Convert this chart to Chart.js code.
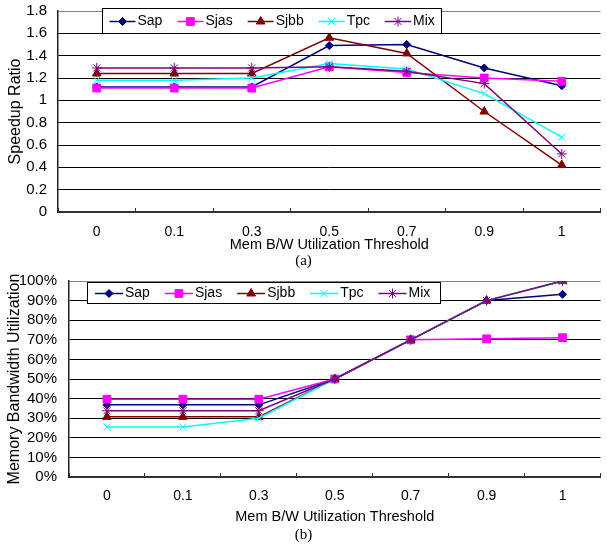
<!DOCTYPE html>
<html>
<head>
<meta charset="utf-8">
<script src="https://cdn.jsdelivr.net/npm/chart.js@4.4.1/dist/chart.umd.min.js"></script>
<style>
  body { margin: 0; background: #fff; }
  canvas { position: absolute; left: 0; }
  #chartA { top: 0; }
  #chartB { top: 270px; }
</style>
</head>
<body>
<canvas id="chartA" width="607" height="270"></canvas>
<canvas id="chartB" width="607" height="274"></canvas>
<script>
"use strict";

// x axis categories, shared by both charts
var thresholds = ['0', '0.1', '0.3', '0.5', '0.7', '0.9', '1'];

// (a) speedup ratio
var speedupSap  = [1.12, 1.12, 1.12, 1.49, 1.50, 1.29, 1.13];
var speedupSjas = [1.11, 1.11, 1.11, 1.30, 1.25, 1.20, 1.17];
var speedupSjbb = [1.24, 1.24, 1.24, 1.56, 1.42, 0.90, 0.42];
var speedupTpc  = [1.18, 1.18, 1.20, 1.33, 1.28, 1.06, 0.67];
var speedupMix  = [1.29, 1.29, 1.29, 1.30, 1.26, 1.15, 0.52];

// (b) memory bandwidth utilization (%)
var bwSap  = [36.8, 36.8, 36.8, 50, 70, 90, 93.2];
var bwSjas = [39.7, 39.7, 39.7, 50, 70, 70.5, 71.1];
var bwSjbb = [30.7, 30.7, 30.7, 50, 70, 90, 100];
var bwTpc  = [25.5, 25.5, 30, 50, 70, 90, 100];
var bwMix  = [33.8, 33.8, 33.8, 50, 70, 90, 100];

var seriesNames = ['Sap', 'Sjas', 'Sjbb', 'Tpc', 'Mix'];
var seriesColors = ['#000080', '#FF00FF', '#800000', '#00FFFF', '#800080'];
var seriesMarkers = ['rectRot', 'rect', 'triangle', 'crossRot', 'star'];
var markerSizes = [4, 5.5, 5, 5, 5];

var SANS = '"Liberation Sans", Arial, sans-serif';

// excel style legend: white box with a border, line + marker samples
var boxLegend = {
    id: 'boxLegend',
    afterDraw: function (chart, args, o) {
        var ctx = chart.ctx;
        ctx.save();
        ctx.fillStyle = '#fff';
        ctx.fillRect(o.x, o.y, o.w, o.h);
        ctx.strokeStyle = '#000';
        ctx.lineWidth = 1;
        ctx.strokeRect(o.x + 0.5, o.y + 0.5, o.w, o.h);
        ctx.font = '14px ' + SANS;
        ctx.textBaseline = 'middle';
        ctx.textAlign = 'left';
        var x = o.x + o.padLeft;
        var cy = o.y + o.h / 2 + 1;
        chart.data.datasets.forEach(function (ds) {
            ctx.strokeStyle = ds.borderColor;
            ctx.fillStyle = ds.backgroundColor;
            ctx.lineWidth = ds.borderWidth;
            ctx.beginPath();
            ctx.moveTo(x, cy);
            ctx.lineTo(x + o.lineLen, cy);
            ctx.stroke();
            ctx.lineWidth = 1;
            Chart.helpers.drawPoint(ctx, { pointStyle: ds.pointStyle, radius: ds.pointRadius, borderWidth: 1, rotation: 0 }, x + o.lineLen / 2, cy);
            x += o.lineLen + o.gap;
            ctx.fillStyle = '#000';
            ctx.fillText(ds.label, x, cy);
            x += ctx.measureText(ds.label).width + o.itemGap;
        });
        ctx.restore();
    }
};

function makeDatasets(series) {
    return series.map(function (vals, i) {
        return {
            label: seriesNames[i],
            data: vals,
            borderColor: seriesColors[i],
            backgroundColor: seriesColors[i],
            borderWidth: 1.5,
            pointStyle: seriesMarkers[i],
            pointRadius: markerSizes[i],
            pointHoverRadius: markerSizes[i],
            pointBorderWidth: 1,
            tension: 0,
            order: series.length - i
        };
    });
}

function buildChart(id, series, cfg) {
    return new Chart(document.getElementById(id), {
        type: 'line',
        data: { labels: thresholds, datasets: makeDatasets(series) },
        options: {
            responsive: false,
            animation: false,
            events: [],
            layout: { padding: { top: 11, left: 0, right: 0, bottom: 0 } },
            plugins: {
                legend: { display: false },
                tooltip: { enabled: false },
                title: {
                    display: true, position: 'bottom', text: cfg.caption, color: '#000',
                    font: { family: '"Liberation Serif", "Times New Roman", serif', size: 15, weight: 'normal' },
                    padding: { top: 0, bottom: 0 }
                },
                boxLegend: cfg.legend
            },
            scales: {
                x: {
                    offset: true,
                    grid: { offset: true, drawOnChartArea: false, tickLength: -4, color: '#333' },
                    border: { color: '#333', width: 2 },
                    ticks: { font: { family: SANS, size: 14 }, color: '#000', padding: cfg.xPad, maxRotation: 0, autoSkip: false },
                    title: {
                        display: true, text: 'Mem B/W Utilization Threshold', color: '#000',
                        font: { family: SANS, size: 14.5, lineHeight: 1 },
                        padding: { top: 0, bottom: cfg.xTitlePad }
                    },
                    afterFit: function (s) { s.height = cfg.xHeight; s.paddingLeft = 0; s.paddingRight = 0; }
                },
                y: {
                    min: cfg.min, max: cfg.max,
                    ticks: { stepSize: cfg.step, autoSkip: false, callback: cfg.fmt, font: { family: SANS, size: 15 }, color: '#000', padding: cfg.yPad },
                    grid: {
                        drawTicks: false, lineWidth: 1,
                        color: function (c) { return c.tick && c.tick.value === cfg.max ? '#808080' : '#000'; }
                    },
                    border: { color: '#222', width: 1.5 },
                    title: {
                        display: true, text: cfg.yTitle, color: '#000',
                        font: { family: SANS, size: 16 },
                        padding: { top: cfg.yTitlePad, bottom: 0 }
                    },
                    afterFit: function (s) { s.width = cfg.yWidth; s.paddingTop = 0; s.paddingBottom = 0; }
                }
            }
        },
        plugins: [boxLegend]
    });
}

buildChart('chartA', [speedupSap, speedupSjas, speedupSjbb, speedupTpc, speedupMix], {
    caption: '(a)', min: 0, max: 1.8, step: 0.2,
    fmt: function (v) { return String(+v.toFixed(1)); },
    yTitle: 'Speedup Ratio', yWidth: 58, yPad: 11, yTitlePad: 6,
    xHeight: 40, xPad: 15.6, xTitlePad: 0,
    legend: { x: 102, y: 8, w: 339, h: 25, padLeft: 7.5, lineLen: 26, gap: 2, itemGap: 15 }
});

buildChart('chartB', [bwSap, bwSjas, bwSjbb, bwTpc, bwMix], {
    caption: '(b)', min: 0, max: 100, step: 10,
    fmt: function (v) { return v + '%'; },
    yTitle: 'Memory Bandwidth Utilization', yWidth: 69, yPad: 12, yTitlePad: 4.5,
    xHeight: 49, xPad: 14.6, xTitlePad: 1.75,
    legend: { x: 87, y: 12, w: 353, h: 21, padLeft: 8, lineLen: 28, gap: 2, itemGap: 15 }
});
</script>
</body>
</html>
